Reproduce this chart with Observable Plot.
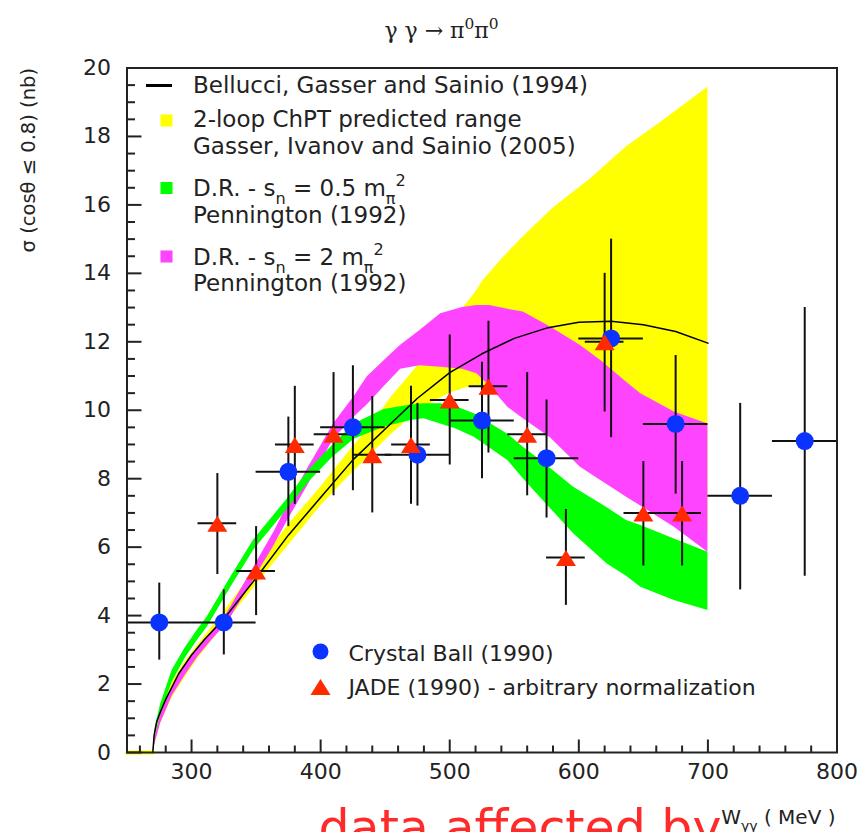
<!DOCTYPE html>
<html><head><meta charset="utf-8">
<script src="https://cdn.jsdelivr.net/npm/d3@7"></script>
<script src="https://cdn.jsdelivr.net/npm/@observablehq/plot@0.6"></script>
<style>
html,body{margin:0;padding:0;background:#fff;overflow:hidden;}
#chart{width:858px;height:832px;overflow:hidden;}
</style></head><body><div id="chart"></div>
<script>
// ---- Bellucci, Gasser and Sainio (1994) curve ----
const bgsX = [270, 271, 273, 276, 280, 290, 300, 310, 325, 350, 375, 400, 425, 450, 475, 500, 525, 550, 575, 600, 625, 650, 675, 700];
const bgsY = [0, 0.5, 0.9, 1.2, 1.55, 2.3, 2.85, 3.3, 3.9, 5.1, 6.35, 7.45, 8.55, 9.45, 10.35, 11.1, 11.65, 12.1, 12.4, 12.57, 12.6, 12.5, 12.3, 11.96];

// ---- 2-loop ChPT band (yellow) ----
const chptX  = [250, 270, 272, 276, 285, 295, 305, 325, 350, 375, 400, 420, 440, 455, 470, 490, 500, 512, 520, 526, 540, 555, 580, 609, 637, 663, 700];
const chptHi = [0, 0, 0.6, 1.25, 2.05, 2.65, 3.15, 4.1, 5.4, 6.65, 7.75, 8.7, 9.6, 10.4, 11.06, 12.0, 12.5, 13.06, 13.45, 13.8, 14.4, 15.0, 15.9, 16.76, 17.7, 18.4, 19.44];
const chptLo = [0, 0, 0.3, 0.85, 1.6, 2.2, 2.75, 3.7, 4.9, 6.05, 7.2, 8.0, 8.75, 9.3, 9.8, 10.3, 10.5, 10.65, 10.7, 10.7, 10.5, 10.2, 9.6, 8.9, 8.2, 7.5, 6.4];

// ---- D.R. s_n = 2 m_pi^2 band (magenta) ----
const dr2X  = [270, 272, 276, 285, 295, 305, 315, 328, 345, 364, 374, 390, 410, 426, 436, 452, 462, 477, 493, 510, 521, 531, 545, 557, 570, 578, 601, 617, 637, 648, 674, 700];
const dr2Hi = [0, 0.5, 1.1, 1.9, 2.55, 3.05, 3.5, 4.1, 5.2, 6.45, 7.2, 8.3, 9.6, 10.4, 10.97, 11.55, 11.9, 12.33, 12.82, 13.0, 13.06, 13.06, 12.95, 12.87, 12.6, 12.43, 11.9, 11.45, 10.82, 10.48, 9.95, 9.6];
const dr2Lo = [0, 0.3, 0.85, 1.65, 2.25, 2.8, 3.25, 3.8, 4.85, 6.05, 6.75, 7.8, 9.15, 9.8, 10.15, 10.8, 11.2, 11.3, 11.26, 11.2, 11.07, 10.7, 10.09, 9.75, 9.41, 9.2, 8.34, 7.95, 7.46, 7.2, 6.58, 5.85];

// ---- D.R. s_n = 0.5 m_pi^2 band (green) ----
const dr05X  = [270, 272, 276, 285, 295, 305, 312, 330, 348, 374, 392, 410, 426, 449, 470, 480, 493, 505, 519, 545, 557, 570, 596, 622, 637, 648, 674, 700];
const dr05Hi = [0, 0.75, 1.4, 2.4, 3.05, 3.6, 3.95, 5.1, 6.2, 7.4, 8.3, 9.0, 9.6, 10.02, 10.15, 10.19, 10.19, 10.1, 9.9, 9.3, 8.92, 8.55, 7.75, 7.15, 6.78, 6.63, 6.24, 5.85];
const dr05Lo = [0, 0.5, 1.1, 2.05, 2.75, 3.3, 3.65, 4.8, 5.9, 7.1, 7.95, 8.65, 9.15, 9.5, 9.7, 9.75, 9.6, 9.45, 9.21, 8.53, 8.0, 7.46, 6.39, 5.51, 5.15, 4.83, 4.44, 4.15];

// ---- Crystal Ball (1990) ----
const cbX  = [275, 325, 375, 425, 475, 525, 575, 625, 675, 725, 775];
const cbY  = [3.8, 3.8, 8.2, 9.5, 8.7, 9.7, 8.6, 12.1, 9.6, 7.5, 9.1];
const cbLo = [2.7, 2.85, 6.6, 7.65, 7.2, 8.0, 6.85, 9.2, 7.55, 4.75, 5.15];
const cbHi = [4.95, 4.75, 9.8, 11.3, 10.2, 11.4, 10.3, 15.0, 11.6, 10.2, 13.0];
const cbHalfWidth = 25;

// ---- JADE (1990) ----
const jadeX  = [320, 350, 380, 410, 440, 470, 500, 530, 560, 590, 620, 650, 680];
const jadeY  = [6.7, 5.3, 9.0, 9.3, 8.7, 9.0, 10.3, 10.7, 9.3, 5.7, 12.0, 7.0, 7.0];
const jadeLo = [5.2, 4.0, 7.25, 7.5, 7.0, 7.25, 8.4, 8.75, 7.5, 4.3, 9.95, 5.45, 5.45];
const jadeHi = [8.15, 6.6, 10.7, 11.1, 10.4, 10.7, 12.2, 12.6, 11.1, 7.1, 14.0, 8.5, 8.5];
const jadeHalfWidth = 15;

// ---- ticks and texts ----
const xMajor = [300, 400, 500, 600, 700, 800];
const xMinor = d3.range(260, 800, 20).filter(v => v % 100 !== 0);
const yMajor = d3.range(0, 21, 2);
const yMinor = d3.range(0, 20.01, 0.5).filter(v => v % 2 !== 0);
const titleText = "γ γ → π^{0}π^{0}";
const xLabel = "W_{γγ} ( MeV )";
const yLabel = "σ (cosθ ≤ 0.8) (nb)";
const legendTexts = ["Bellucci, Gasser and Sainio (1994)", "2-loop ChPT predicted range", "Gasser, Ivanov and Sainio (2005)", "D.R. - s_{n} = 0.5 m_{π}^{2}", "Pennington (1992)", "D.R. - s_{n} = 2 m_{π}^{2}", "Pennington (1992)"];
const dataLegend = ["Crystal Ball (1990)", "JADE (1990) - arbitrary normalization"];
const overlayText = "data affected by";

const bgs = bgsX.map((x, i) => ({x, y: bgsY[i]}));
const chpt = chptX.map((x, i) => ({x, lo: chptLo[i], hi: chptHi[i]}));
const dr2 = dr2X.map((x, i) => ({x, lo: dr2Lo[i], hi: dr2Hi[i]}));
const dr05 = dr05X.map((x, i) => ({x, lo: dr05Lo[i], hi: dr05Hi[i]}));
const cb = cbX.map((x, i) => ({x, y: cbY[i], lo: cbLo[i], hi: cbHi[i], x1: x - cbHalfWidth, x2: x + cbHalfWidth}));
const jade = jadeX.map((x, i) => ({x, y: jadeY[i], lo: jadeLo[i], hi: jadeHi[i], x1: x - jadeHalfWidth, x2: x + jadeHalfWidth}));

const YELLOW = "#ffff00", GREEN = "#00ff00", MAGENTA = "#ff44ff", BLUE = "#0a33ff", RED = "#ff2a00", INK = "#222";
const triangle = {draw(c) { c.moveTo(0, -7.5); c.lineTo(10, 8.5); c.lineTo(-10, 8.5); c.closePath(); }};
const dash = {draw(c) { c.moveTo(-13, 0); c.lineTo(13, 0); }};

const W = 858, H = 832, ML = 126.5, MR = 21.5, MT = 67.5, MB = 80;
const X0 = 250, X1 = 800, Y0 = 0, Y1 = 20;
const FW = W - ML - MR, FH = H - MT - MB;
const pxX = px => px * (X1 - X0) / FW;   // pixel length -> x units
const pxY = px => px * (Y1 - Y0) / FH;   // pixel length -> y units

const T = (s, opts) => Plot.text([s], {text: d => d, frameAnchor: "top-left", textAnchor: "start", lineAnchor: "bottom", fill: INK, ...opts});

const chart = Plot.plot({
  width: W, height: H,
  marginLeft: ML, marginRight: MR, marginTop: MT, marginBottom: MB,
  x: {domain: [X0, X1]},
  y: {domain: [Y0, Y1]},
  style: {fontFamily: "DejaVu Sans", fontSize: "22px", color: INK, background: "#fff", overflow: "visible"},
  marks: [
    Plot.areaY(chpt, {x: "x", y1: "lo", y2: "hi", fill: YELLOW}),
    Plot.lineY(chpt.filter(d => d.x <= 270), {x: "x", y: "lo", stroke: YELLOW, strokeWidth: 4}),
    Plot.areaY(dr2, {x: "x", y1: "lo", y2: "hi", fill: MAGENTA}),
    Plot.areaY(dr05, {x: "x", y1: "lo", y2: "hi", fill: GREEN}),
    Plot.line(bgs, {x: "x", y: "y", stroke: "#000", strokeWidth: 1.5}),
    Plot.ruleX(cb, {x: "x", y1: "lo", y2: "hi", stroke: "#111", strokeWidth: 2}),
    Plot.ruleY(cb, {y: "y", x1: "x1", x2: "x2", stroke: "#111", strokeWidth: 2}),
    Plot.ruleX(jade, {x: "x", y1: "lo", y2: "hi", stroke: "#111", strokeWidth: 2}),
    Plot.ruleY(jade, {y: "y", x1: "x1", x2: "x2", stroke: "#111", strokeWidth: 2}),
    Plot.dot(cb, {x: "x", y: "y", r: 9, fill: BLUE}),
    Plot.dot(jade, {x: "x", y: "y", symbol: triangle, fill: RED}),
    Plot.frame({stroke: INK, strokeWidth: 2}),
    // inward ticks
    Plot.ruleY(yMajor, {y: d => d, x1: X0, x2: X0 + pxX(15), stroke: INK, strokeWidth: 2}),
    Plot.ruleY(yMinor, {y: d => d, x1: X0, x2: X0 + pxX(8.5), stroke: INK, strokeWidth: 2}),
    Plot.ruleX(xMajor, {x: d => d, y1: Y0, y2: Y0 + pxY(12.5), stroke: INK, strokeWidth: 2}),
    Plot.ruleX(xMinor, {x: d => d, y1: Y0, y2: Y0 + pxY(6.5), stroke: INK, strokeWidth: 2}),
    Plot.axisY({ticks: yMajor, tickSize: 0, tickPadding: 16, label: null, fontSize: 22}),
    Plot.axisX({ticks: xMajor, tickSize: 0, tickPadding: 11, label: null, fontSize: 22}),
    // legend (top)
    Plot.dot([0], {frameAnchor: "top-left", dx: 32, dy: 17.5, symbol: dash, fill: "none", stroke: "#000", strokeWidth: 3}),
    T(legendTexts[0], {dx: 66, dy: 25, fontSize: 23}),
    Plot.dot([0], {frameAnchor: "top-left", dx: 39.5, dy: 52.5, symbol: "square", r: 6.8, fill: YELLOW}),
    T(legendTexts[1], {dx: 66, dy: 59, fontSize: 23}),
    T(legendTexts[2], {dx: 66, dy: 86, fontSize: 23}),
    Plot.dot([0], {frameAnchor: "top-left", dx: 39.5, dy: 120, symbol: "square", r: 6.8, fill: GREEN}),
    T(legendTexts[3], {dx: 66, dy: 127.5, fontSize: 23}),
    T(legendTexts[4], {dx: 66, dy: 155, fontSize: 23}),
    Plot.dot([0], {frameAnchor: "top-left", dx: 39.5, dy: 188.5, symbol: "square", r: 6.8, fill: MAGENTA}),
    T(legendTexts[5], {dx: 66, dy: 196.5, fontSize: 23}),
    T(legendTexts[6], {dx: 66, dy: 222.5, fontSize: 23}),
    // legend (data)
    Plot.dot([0], {frameAnchor: "top-left", dx: 193.5, dy: 583.5, r: 8, fill: BLUE}),
    T(dataLegend[0], {dx: 221.5, dy: 592.5, fontSize: 22}),
    Plot.dot([0], {frameAnchor: "top-left", dx: 193.5, dy: 618.5, symbol: triangle, fill: RED}),
    T(dataLegend[1], {dx: 221.5, dy: 626.5, fontSize: 22}),
    // titles
    T(titleText, {dx: 314.5, dy: -30, textAnchor: "middle", fontFamily: "DejaVu Serif", fontSize: 22}),
    T(yLabel, {dx: -92.5, dy: 0, rotate: -90, textAnchor: "end", fontSize: 19.5}),
    Plot.text([xLabel], {text: d => d, frameAnchor: "bottom-right", dx: -1.5, dy: 71, textAnchor: "end", lineAnchor: "bottom", fontSize: 20, fill: INK}),
    Plot.text([overlayText], {text: d => d, frameAnchor: "bottom-left", dx: 191.5, dy: 92, textAnchor: "start", lineAnchor: "bottom", fontSize: 49, fill: "#ff2a2a"})
  ]
});
document.getElementById("chart").appendChild(chart);

// sub/superscript markup -> tspans
(function richify(svg) {
  const NS = "http://www.w3.org/2000/svg";
  svg.querySelectorAll("text").forEach(t => {
    const s = t.textContent;
    if (!/[_^]\{/.test(s)) return;
    const fs = parseFloat(getComputedStyle(t).fontSize) || 22;
    while (t.firstChild) t.removeChild(t.firstChild);
    const re = /([_^])\{([^}]*)\}|([^_^]+)/g;
    let m, shift = 0;
    while ((m = re.exec(s))) {
      const ts = document.createElementNS(NS, "tspan");
      let target;
      if (m[3] !== undefined) { ts.textContent = m[3]; target = 0; }
      else { ts.textContent = m[2]; ts.setAttribute("font-size", (0.7 * fs).toFixed(1)); target = m[1] === "_" ? 0.35 * fs : -0.42 * fs; }
      ts.setAttribute("dy", (target - shift).toFixed(2));
      shift = target;
      t.appendChild(ts);
    }
  });
})(chart);
</script></body></html>
